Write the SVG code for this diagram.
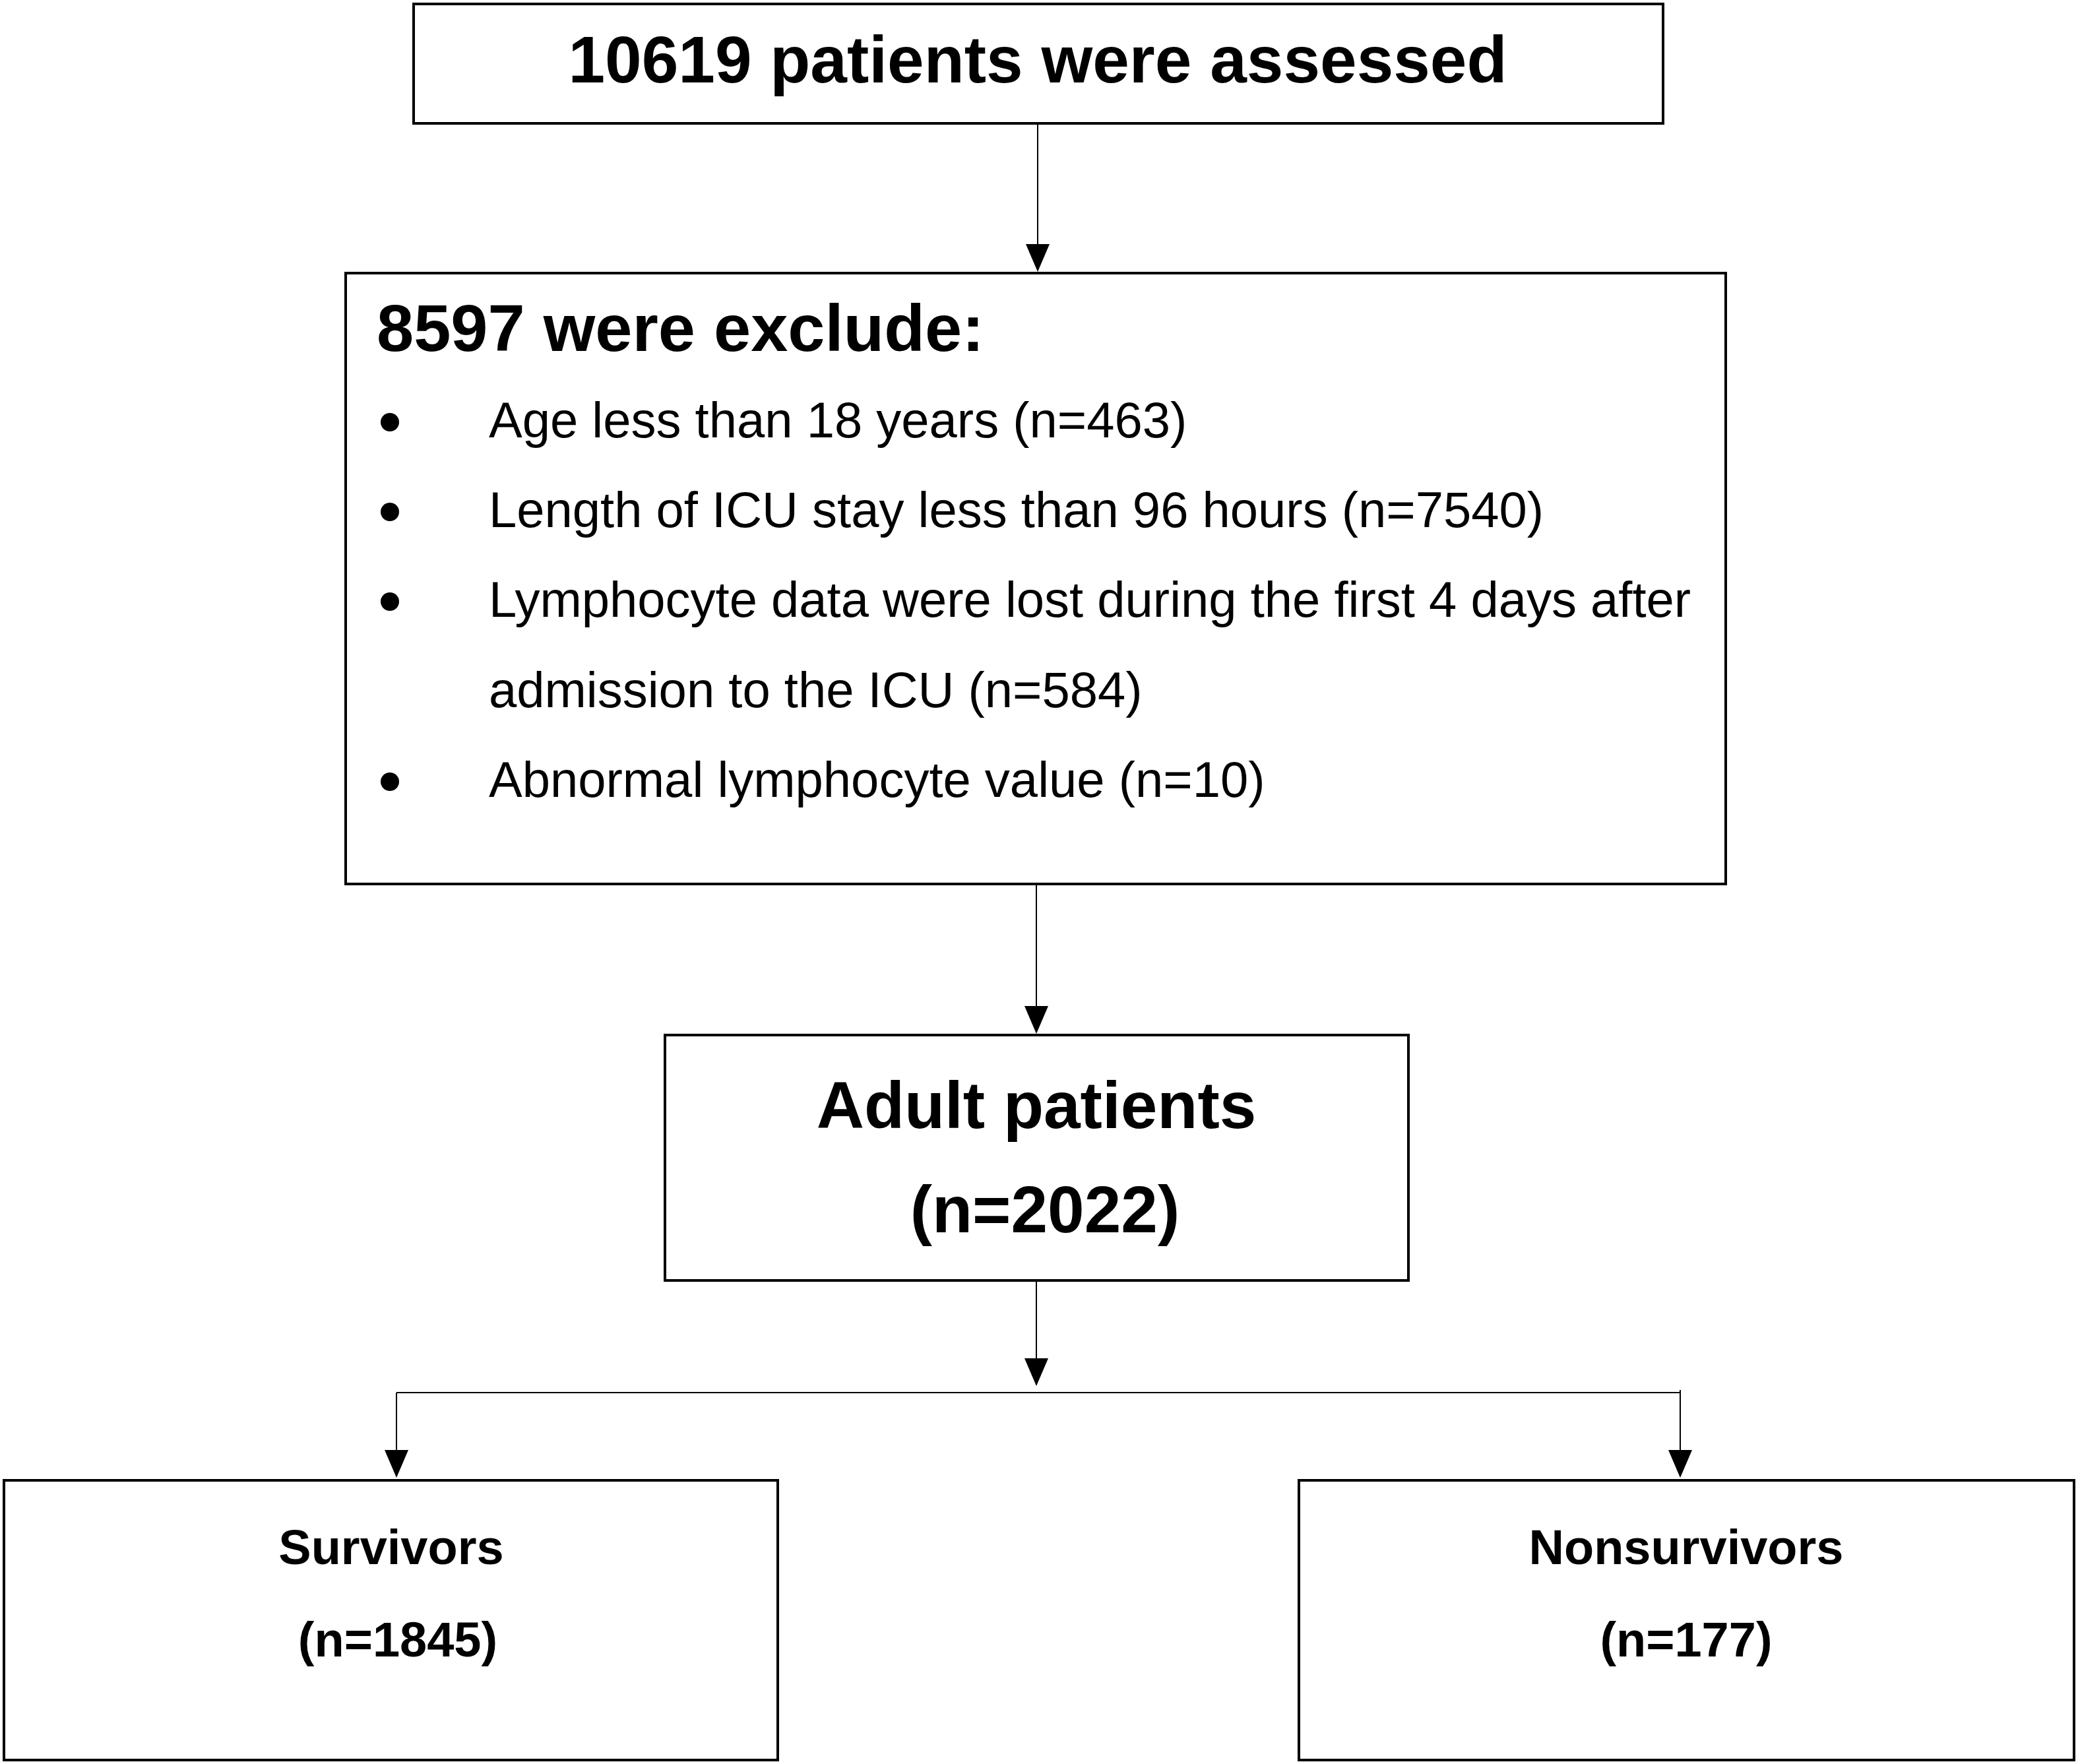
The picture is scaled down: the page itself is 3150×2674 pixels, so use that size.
<svg xmlns="http://www.w3.org/2000/svg" width="3150" height="2674" viewBox="0 0 3150 2674">
<style>
.box{fill:#fff;stroke:#000;stroke-width:4}
.b{font-family:"Liberation Sans",Arial,sans-serif;font-weight:bold;fill:#000}
.r{font-family:"Liberation Sans",Arial,sans-serif;fill:#000}
.c{stroke:#000;stroke-width:2;fill:none}
.ah{fill:#000}
</style>
<rect width="3150" height="2674" fill="#fff"/>
<g id="connectors">
<line class="c" x1="1573" y1="187" x2="1573" y2="372"/>
<line class="c" x1="1571" y1="1340" x2="1571" y2="1527"/>
<line class="c" x1="1571" y1="1941" x2="1571" y2="2061"/>
<line class="c" x1="601" y1="2111" x2="2547" y2="2111" stroke="#555"/>
<line class="c" x1="601" y1="2111" x2="601" y2="2200"/>
<line class="c" x1="2547" y1="2107" x2="2547" y2="2200"/>
<path class="ah" d="M1555,370 L1591,370 L1573,412 Z"/>
<path class="ah" d="M1553,1525 L1589,1525 L1571,1567 Z"/>
<path class="ah" d="M1553,2059 L1589,2059 L1571,2101 Z"/>
<path class="ah" d="M583,2198 L619,2198 L601,2240 Z"/>
<path class="ah" d="M2529,2198 L2565,2198 L2547,2240 Z"/>
</g>
<g id="assessed">
<rect class="box" x="627" y="6" width="1894" height="181"/>
<text class="b" x="1573" y="125" font-size="100" text-anchor="middle">10619 patients were assessed</text>
</g>
<g id="excluded">
<rect class="box" x="524" y="414" width="2092" height="926"/>
<text class="b" x="571" y="532" font-size="101">8597 were exclude:</text>
<g fill="#000">
<circle cx="591" cy="640" r="14"/>
<circle cx="591" cy="776" r="14"/>
<circle cx="591" cy="912" r="14"/>
<circle cx="591" cy="1185" r="14"/>
</g>
<text class="r" x="741" y="663" font-size="76">Age less than 18 years (n=463)</text>
<text class="r" x="741" y="799" font-size="76">Length of ICU stay less than 96 hours (n=7540)</text>
<text class="r" x="741" y="935" font-size="76">Lymphocyte data were lost during the first 4 days after</text>
<text class="r" x="741" y="1072" font-size="76">admission to the ICU (n=584)</text>
<text class="r" x="741" y="1208" font-size="76">Abnormal lymphocyte value (n=10)</text>
</g>
<g id="adult">
<rect class="box" x="1008" y="1569" width="1127" height="372"/>
<text class="b" x="1571" y="1710" font-size="100" text-anchor="middle">Adult patients</text>
<text class="b" x="1584" y="1868" font-size="100" text-anchor="middle">(n=2022)</text>
</g>
<g id="survivors">
<rect class="box" x="6" y="2244" width="1173" height="424"/>
<text class="b" x="593" y="2371" font-size="74" text-anchor="middle">Survivors</text>
<text class="b" x="603" y="2511" font-size="74" text-anchor="middle">(n=1845)</text>
</g>
<g id="nonsurvivors">
<rect class="box" x="1969" y="2244" width="1175" height="424"/>
<text class="b" x="2556" y="2371" font-size="74" text-anchor="middle">Nonsurvivors</text>
<text class="b" x="2556" y="2511" font-size="74" text-anchor="middle">(n=177)</text>
</g>
</svg>
